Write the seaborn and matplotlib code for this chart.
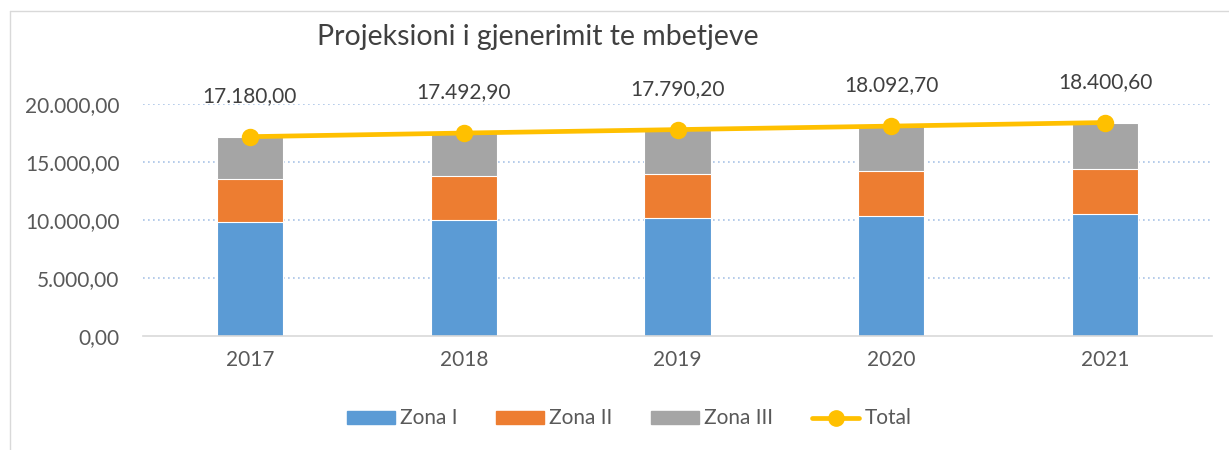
import numpy as np
import pandas as pd
import matplotlib
matplotlib.use("Agg")
import matplotlib.pyplot as plt
import matplotlib.patches as mpatches
from matplotlib.lines import Line2D
import seaborn as sns

years = ["2017", "2018", "2019", "2020", "2021"]
zona_1 = [9810, 9980, 10150, 10320, 10490]
zona_2 = [3680, 3770, 3800, 3860, 3910]
total = [17180.00, 17492.90, 17790.20, 18092.70, 18400.60]
zona_3 = [t - a - b for t, a, b in zip(total, zona_1, zona_2)]
y_ticks = [0, 5000, 10000, 15000, 20000]

COLORS = {
    "Zona I": "#5B9BD5",
    "Zona II": "#ED7D31",
    "Zona III": "#A5A5A5",
    "Total": "#FFC000",
}
TXT = "#595959"


def fmt(v):
    # European number format: 17.180,00
    s = f"{v:,.2f}"
    return s.replace(",", "X").replace(".", ",").replace("X", ".")


sns.set_style("white")
plt.rcParams["font.family"] = ["Lato", "DejaVu Sans"]

df = pd.DataFrame({"year": years, "z1": zona_1, "z2": zona_2, "z3": zona_3})
df["c2"] = df["z1"] + df["z2"]
df["c3"] = df["c2"] + df["z3"]

fig = plt.figure(figsize=(12.29, 4.5), dpi=100)
ax = fig.add_axes([143 / 1229, 1 - 335.7 / 450, (1212 - 143) / 1229, (335.7 - 104) / 450])

# stacked bars: draw cumulative heights from the top down
for col, name in [("c3", "Zona III"), ("c2", "Zona II"), ("z1", "Zona I")]:
    sns.barplot(data=df, x="year", y=col, color=COLORS[name], width=0.31,
                edgecolor="white", linewidth=0.8, saturation=1, ax=ax)

sns.pointplot(x=years, y=total, color=COLORS["Total"], markers="o",
              linewidth=3.4, markersize=10, ax=ax)

for i, v in enumerate(total):
    ax.annotate(fmt(v), (i, v), xytext=(0, 22), textcoords="offset points",
                ha="center", va="bottom", fontsize=15, color="#404040")

ax.set_xlim(-0.5, 4.5)
ax.set_ylim(0, 20000)
ax.set_yticks(y_ticks)
ax.set_yticklabels([fmt(t) for t in y_ticks], fontsize=15, color=TXT)
ax.tick_params(axis="x", labelsize=15, labelcolor=TXT, length=0, pad=10)
ax.tick_params(axis="y", length=0, pad=17)
ax.set(xlabel="", ylabel="")
for v in y_ticks[1:]:
    ax.axhline(v, color="#A9C4E6", linestyle=(0, (1, 2)), linewidth=1.2, zorder=0)
for s in ["top", "right", "left"]:
    ax.spines[s].set_visible(False)
ax.spines["bottom"].set_color("#D9D9D9")
ax.spines["bottom"].set_linewidth(1.2)
ax.set_axisbelow(True)

fig.text(0.438, 0.918, "Projeksioni i gjenerimit te mbetjeve",
         ha="center", va="center", fontsize=20.5, color="#404040")

handles = [mpatches.Patch(color=COLORS[n], label=n) for n in ["Zona I", "Zona II", "Zona III"]]
handles.append(Line2D([], [], color=COLORS["Total"], linewidth=3.4, marker="o",
                      markersize=11, label="Total"))
fig.legend(handles=handles, loc="center", bbox_to_anchor=(0.512, 0.07), ncol=4,
           frameon=False, fontsize=15, handlelength=2.3, handleheight=0.6,
           columnspacing=1.85, handletextpad=0.25, labelcolor=TXT)

# chart frame
fig.add_artist(Line2D([10 / 1229, 10 / 1229], [0, 1 - 11 / 450], transform=fig.transFigure,
                      color="#D9D9D9", linewidth=1))
fig.add_artist(Line2D([10 / 1229, 1], [1 - 11 / 450, 1 - 11 / 450], transform=fig.transFigure,
                      color="#D9D9D9", linewidth=1))

fig.savefig("out.png", dpi=100)
